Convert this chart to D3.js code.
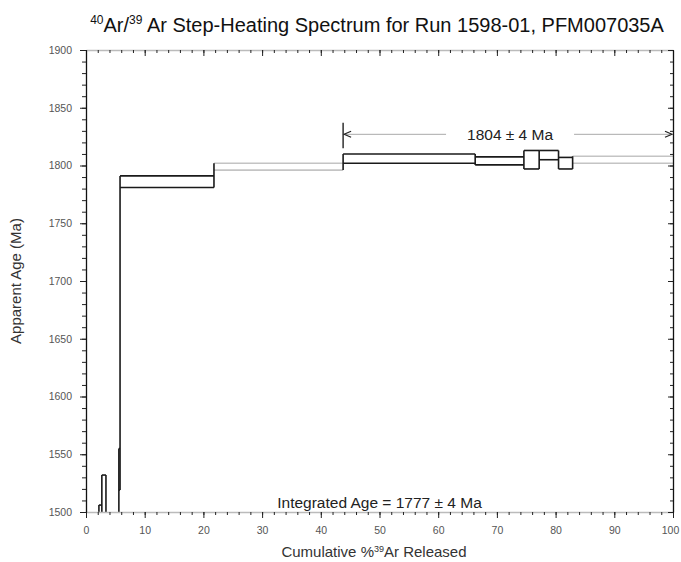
<!DOCTYPE html>
<html>
<head>
<meta charset="utf-8">
<script src="https://cdn.jsdelivr.net/npm/d3@7"></script>
<style>
   body { margin: 0; background: #fff; }
   svg { font-family: "Liberation Sans", Arial, sans-serif; }
   .tick text { fill: #555; }
</style>
</head>
<body>
<div id="chart"></div>
<script>
// Step data: cumulative %39Ar at the start of each step, apparent age and 1 sigma error (Ma)
let stepStart = [0, 2.2, 2.7, 3.4, 5.6, 5.8, 21.8, 43.8, 66.3, 74.6, 77.2, 80.5, 82.9]
let stepAge   = [1420, 1490, 1505, 1440, 1537, 1786, 1799, 1806, 1804, 1805, 1809, 1802, 1805]
let stepErr   = [30, 16, 27, 30, 18, 5, 3, 4, 3.5, 8, 4, 5, 3]
let stepEndTotal = 100

// Plateau and integrated ages
let plateauFrom = 43.8
let plateauTo = 100
let plateauLabel = "1804 ± 4 Ma"
let integratedLabel = "Integrated Age = 1777 ± 4 Ma"

// Axis ticks
let xMajor = [0, 10, 20, 30, 40, 50, 60, 70, 80, 90, 100]
let yMajor = [1500, 1550, 1600, 1650, 1700, 1750, 1800, 1850, 1900]

let width = 681
let height = 562
let plotL = 86, plotR = 673, plotT = 50, plotB = 512

let x = d3.scaleLinear().domain([0, 100]).range([plotL, plotR])
let y = d3.scaleLinear().domain([1500, 1900]).range([plotB, plotT])

let xMinor = d3.range(0, 101, 2)
let yMinor = d3.range(1500, 1901, 10)

let svg = d3.select("#chart").append("svg")
   .attr("width", width)
   .attr("height", height)

svg.append("clipPath").attr("id", "plot")
   .append("rect")
      .attr("x", plotL).attr("y", plotT)
      .attr("width", plotR - plotL).attr("height", plotB - plotT)

// Steps
let steps = stepStart.map(function(s, i) {
   return {
      x0: s,
      x1: i < stepStart.length - 1 ? stepStart[i+1] : stepEndTotal,
      lo: stepAge[i] - stepErr[i],
      hi: stepAge[i] + stepErr[i]
   }
})
let faintSteps = [6, 12]

let g = svg.append("g").attr("clip-path", "url(#plot)")

steps.forEach(function(d, i) {
   let col = faintSteps.indexOf(i) >= 0 ? "#c4c4c4" : "#1a1a1a"
   ;[d.lo, d.hi].forEach(function(v) {
      g.append("line")
         .attr("x1", x(d.x0)).attr("x2", x(d.x1))
         .attr("y1", y(v)).attr("y2", y(v))
         .attr("stroke", col)
         .attr("stroke-width", 1.6)
   })
   if(i > 0) {
      let p = steps[i-1]
      let vals = [p.lo, p.hi, d.lo, d.hi]
      g.append("line")
         .attr("x1", x(d.x0)).attr("x2", x(d.x0))
         .attr("y1", y(d3.min(vals))).attr("y2", y(d3.max(vals)))
         .attr("stroke", "#1a1a1a")
         .attr("stroke-width", 1.6)
   }
})

// Axes
function styleAxis(sel, domainColor) {
   sel.select(".domain").attr("stroke", domainColor).attr("stroke-width", 1.3)
   sel.selectAll(".tick line").attr("stroke", "#222")
}

svg.append("g")
   .attr("transform", "translate(0," + plotB + ")")
   .call(d3.axisBottom(x).tickValues(xMinor).tickSize(3).tickSizeOuter(0).tickFormat(""))
   .call(styleAxis, "#bbb")
let xLabels = svg.append("g")
   .attr("transform", "translate(0," + plotB + ")")
   .call(d3.axisBottom(x).tickValues(xMajor).tickSize(6).tickSizeOuter(0).tickPadding(9))
   .call(function(s) { s.select(".domain").remove() })
   .call(styleAxis, "none")
xLabels.selectAll("text").attr("font-size", 10.5)
   .attr("dx", function(d) { return d == 100 ? -3 : 0 })

svg.append("g")
   .attr("transform", "translate(0," + plotT + ")")
   .call(d3.axisBottom(x).tickValues(xMinor).tickSize(3).tickSizeOuter(0).tickFormat(""))
   .call(styleAxis, "#bbb")
svg.append("g")
   .attr("transform", "translate(0," + plotT + ")")
   .call(d3.axisBottom(x).tickValues(xMajor).tickSize(6).tickSizeOuter(0).tickFormat(""))
   .call(function(s) { s.select(".domain").remove() })
   .call(styleAxis, "none")

svg.append("g")
   .attr("transform", "translate(" + plotL + ",0)")
   .call(d3.axisLeft(y).tickValues(yMinor).tickSize(4).tickSizeOuter(0).tickFormat(""))
   .call(styleAxis, "#111")
svg.append("g")
   .attr("transform", "translate(" + plotL + ",0)")
   .call(d3.axisLeft(y).tickValues(yMajor).tickSize(6).tickSizeOuter(0).tickPadding(8).tickFormat(d3.format("d")))
   .call(function(s) { s.select(".domain").remove() })
   .call(styleAxis, "none")
   .selectAll("text").attr("font-size", 10.5)

svg.append("g")
   .attr("transform", "translate(" + plotR + ",0)")
   .call(d3.axisLeft(y).tickValues(yMinor).tickSize(3).tickSizeOuter(0).tickFormat(""))
   .call(styleAxis, "#111")
svg.append("g")
   .attr("transform", "translate(" + plotR + ",0)")
   .call(d3.axisLeft(y).tickValues(yMajor).tickSize(5).tickSizeOuter(0).tickFormat(""))
   .call(function(s) { s.select(".domain").remove() })
   .call(styleAxis, "none")

// Plateau annotation
let ay = y(1827)
let textW = 88
let mid = (x(plateauFrom) + x(plateauTo)) / 2 + 2

svg.append("line")
   .attr("x1", x(plateauFrom)).attr("x2", x(plateauFrom))
   .attr("y1", y(1837)).attr("y2", y(1815))
   .attr("stroke", "#222").attr("stroke-width", 1.4)
svg.append("line")
   .attr("x1", x(plateauFrom) + 2).attr("x2", mid - textW / 2 - 20)
   .attr("y1", ay).attr("y2", ay)
   .attr("stroke", "#aaa").attr("stroke-width", 1)
svg.append("line")
   .attr("x1", mid + textW / 2 + 20).attr("x2", x(plateauTo) - 2)
   .attr("y1", ay).attr("y2", ay)
   .attr("stroke", "#aaa").attr("stroke-width", 1)
svg.append("path")
   .attr("d", "M" + (x(plateauFrom) + 8) + "," + (ay - 3) + "L" + (x(plateauFrom) + 1) + "," + ay + "L" + (x(plateauFrom) + 8) + "," + (ay + 3))
   .attr("fill", "none").attr("stroke", "#222").attr("stroke-width", 1.2)
svg.append("path")
   .attr("d", "M" + (x(plateauTo) - 8) + "," + (ay - 3) + "L" + (x(plateauTo) - 1) + "," + ay + "L" + (x(plateauTo) - 8) + "," + (ay + 3))
   .attr("fill", "none").attr("stroke", "#222").attr("stroke-width", 1.2)
svg.append("text")
   .attr("x", mid).attr("y", ay + 6)
   .attr("text-anchor", "middle")
   .attr("font-size", 15.5)
   .attr("fill", "#222")
   .text(plateauLabel)

svg.append("text")
   .attr("x", x(50)).attr("y", plotB - 4)
   .attr("text-anchor", "middle")
   .attr("font-size", 15.5)
   .attr("fill", "#222")
   .text(integratedLabel)

// Titles
let title = svg.append("text")
   .attr("x", 377).attr("y", 32)
   .attr("text-anchor", "middle")
   .attr("font-size", 20)
   .attr("fill", "#111")
title.append("tspan").attr("font-size", 12).attr("dy", -8).text("40")
title.append("tspan").attr("dy", 8).text("Ar/")
title.append("tspan").attr("font-size", 12).attr("dy", -8).text("39")
title.append("tspan").attr("dy", 8).text(" Ar Step-Heating Spectrum for Run 1598-01, PFM007035A")

let xt = svg.append("text")
   .attr("x", 374).attr("y", 557)
   .attr("text-anchor", "middle")
   .attr("font-size", 15)
   .attr("fill", "#333")
xt.append("tspan").text("Cumulative %")
xt.append("tspan").attr("font-size", 9).attr("dy", -5).text("39")
xt.append("tspan").attr("dy", 5).text("Ar Released")

svg.append("text")
   .attr("transform", "translate(21," + ((plotT + plotB) / 2) + ") rotate(-90)")
   .attr("text-anchor", "middle")
   .attr("font-size", 15)
   .attr("fill", "#333")
   .text("Apparent Age (Ma)")
</script>
</body>
</html>
